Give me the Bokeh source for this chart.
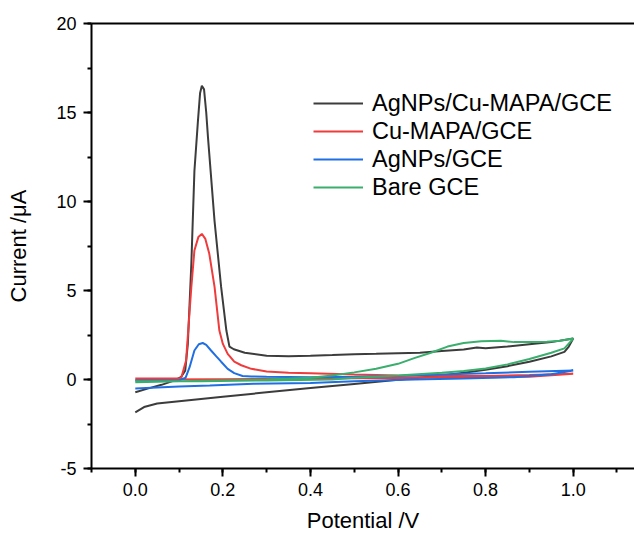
from bokeh.plotting import figure
from bokeh.models import (LinearAxis, SingleIntervalTicker, FixedTicker, PrintfTickFormatter,
                          Legend, LegendItem, ColumnDataSource)
from bokeh.embed import file_html
from bokeh.resources import INLINE

# ---- data (potential in V, current in uA); forward scan then reverse scan ----
black_x = [0.0, 0.03, 0.06, 0.09, 0.105, 0.114, 0.12, 0.128, 0.135, 0.143, 0.148, 0.152, 0.157,
           0.162, 0.166, 0.181, 0.196, 0.208, 0.215, 0.225, 0.25, 0.3, 0.35, 0.4, 0.45, 0.5, 0.55,
           0.6, 0.65, 0.7, 0.75, 0.78, 0.8, 0.85, 0.9, 0.95, 1.0,
           0.99, 0.98, 0.95, 0.9, 0.85, 0.8, 0.75, 0.7, 0.6, 0.5, 0.4, 0.3, 0.2, 0.1, 0.05, 0.02, 0.0]
black_y = [-0.72, -0.5, -0.3, -0.05, 0.15, 0.5, 2.0, 6.5, 11.7, 14.5, 16.1, 16.5, 16.3,
           15.0, 13.6, 8.9, 5.2, 2.75, 1.85, 1.7, 1.5, 1.33, 1.3, 1.33, 1.37, 1.42, 1.44,
           1.47, 1.5, 1.6, 1.68, 1.8, 1.75, 1.85, 1.98, 2.1, 2.3,
           1.85, 1.55, 1.3, 1.0, 0.75, 0.55, 0.38, 0.22, -0.02, -0.25, -0.48, -0.72, -0.97, -1.22, -1.35, -1.55, -1.85]

red_x = [0.0, 0.05, 0.1, 0.105, 0.116, 0.128, 0.135, 0.144, 0.152, 0.16, 0.169, 0.181, 0.192,
         0.2, 0.211, 0.226, 0.242, 0.265, 0.3, 0.35, 0.4, 0.5, 0.6, 0.7, 0.8, 0.9, 1.0,
         0.9, 0.8, 0.6, 0.4, 0.2, 0.0]
red_y = [0.05, 0.05, 0.05, 0.1, 1.07, 5.2, 7.25, 8.0, 8.18, 7.9, 7.06, 5.2, 2.75,
         2.0, 1.44, 1.0, 0.8, 0.6, 0.45, 0.38, 0.35, 0.28, 0.22, 0.2, 0.2, 0.25, 0.32,
         0.15, 0.12, 0.08, 0.05, 0.02, 0.0]

blue_x = [0.0, 0.05, 0.1, 0.115, 0.124, 0.135, 0.145, 0.154, 0.162, 0.173, 0.185, 0.196, 0.211,
          0.226, 0.245, 0.265, 0.3, 0.4, 0.5, 0.6, 0.7, 0.8, 0.9, 1.0,
          0.95, 0.865, 0.75, 0.637, 0.5, 0.4, 0.27, 0.17, 0.1, 0.0]
blue_y = [-0.05, -0.05, -0.05, 0.1, 0.69, 1.63, 1.98, 2.05, 1.95, 1.63, 1.3, 1.0, 0.6,
          0.36, 0.2, 0.17, 0.15, 0.12, 0.15, 0.2, 0.28, 0.35, 0.43, 0.5,
          0.3, 0.13, 0.05, 0.0, -0.1, -0.2, -0.24, -0.34, -0.39, -0.5]

green_x = [0.0, 0.1, 0.2, 0.3, 0.4, 0.45, 0.5, 0.55, 0.6, 0.637, 0.675, 0.713, 0.75, 0.79, 0.835,
           0.865, 0.9, 0.94, 0.97, 1.0,
           0.98, 0.95, 0.9, 0.85, 0.8, 0.75, 0.7, 0.6, 0.5, 0.45, 0.3, 0.15, 0.0]
green_y = [-0.15, -0.1, -0.05, 0.0, 0.1, 0.22, 0.4, 0.6, 0.88, 1.2, 1.5, 1.85, 2.05, 2.15, 2.18,
           2.1, 2.1, 2.12, 2.18, 2.3,
           1.75, 1.5, 1.15, 0.85, 0.62, 0.48, 0.38, 0.22, 0.1, 0.0, -0.05, -0.1, -0.1]

labels = ["AgNPs/Cu-MAPA/GCE", "Cu-MAPA/GCE", "AgNPs/GCE", "Bare GCE"]
colors = ["#3c3c3c", "#ef3b3b", "#1f6fe3", "#3aae6c"]

FONT = "Liberation Sans"

p = figure(width=634, height=535, x_range=(-0.1, 1.14), y_range=(-5, 20),
           output_backend="svg", toolbar_location=None,
           min_border_left=91, min_border_right=0, min_border_top=23, min_border_bottom=67,
           x_axis_label="Potential /V", y_axis_label="Current /\u03bcA")
p.outline_line_color = None
p.xgrid.visible = False
p.ygrid.visible = False
p.background_fill_color = "white"
p.border_fill_color = "white"

p.xaxis.ticker = SingleIntervalTicker(interval=0.2, num_minor_ticks=2)
p.xaxis.formatter = PrintfTickFormatter(format="%.1f")
p.yaxis.ticker = SingleIntervalTicker(interval=5, num_minor_ticks=2)
p.yaxis.formatter = PrintfTickFormatter(format="%d")

for ax in (p.xaxis[0], p.yaxis[0]):
    ax.axis_line_width = 2
    ax.axis_line_color = "black"
    ax.major_tick_line_width = 2
    ax.minor_tick_line_width = 2
    ax.major_tick_line_color = "black"
    ax.minor_tick_line_color = "black"
    ax.major_tick_in = 0
    ax.major_tick_out = 8
    ax.minor_tick_in = 0
    ax.minor_tick_out = 4
    ax.major_label_text_font = FONT
    ax.major_label_text_font_size = "18px"
    ax.major_label_text_color = "black"
    ax.axis_label_text_font = FONT
    ax.axis_label_text_font_size = "22px"
    ax.axis_label_text_font_style = "normal"
    ax.axis_label_text_color = "black"

p.xaxis.major_label_standoff = 6
p.xaxis.axis_label_standoff = 9
p.yaxis.major_label_standoff = 7
p.yaxis.axis_label_standoff = 22

top = LinearAxis(ticker=FixedTicker(ticks=[]), axis_line_width=2, axis_line_color="black",
                 major_tick_line_color=None, minor_tick_line_color=None,
                 major_label_text_font_size="0px")
p.add_layout(top, "above")

renderers = []
for xs, ys, c in [(black_x, black_y, colors[0]), (red_x, red_y, colors[1]),
                  (blue_x, blue_y, colors[2]), (green_x, green_y, colors[3])]:
    src = ColumnDataSource(dict(x=xs, y=ys))
    r = p.line("x", "y", source=src, line_color=c, line_width=2)
    renderers.append(r)

legend = Legend(items=[LegendItem(label=l, renderers=[r]) for l, r in zip(labels, renderers)],
                location=(222, 267), glyph_width=50, glyph_height=28, label_height=28,
                spacing=0, padding=0, margin=0, label_standoff=9,
                border_line_alpha=0, background_fill_alpha=0,
                label_text_font=FONT, label_text_font_size="23.5px", label_text_color="black")
p.add_layout(legend)

open("out.html", "w").write(file_html(p, INLINE))
